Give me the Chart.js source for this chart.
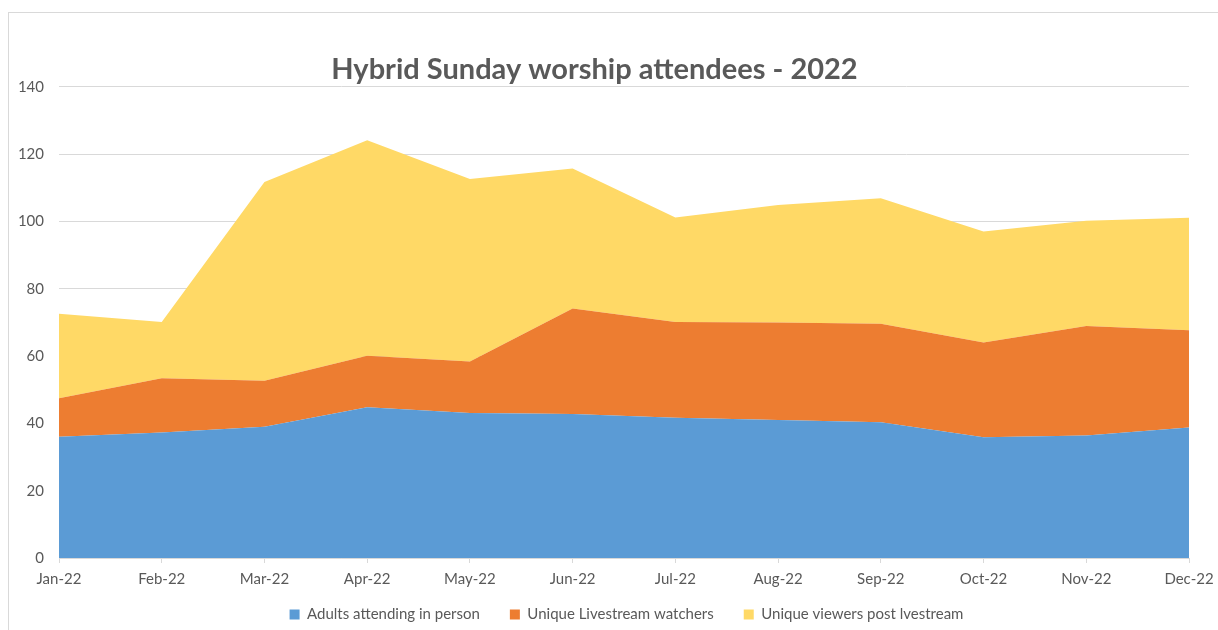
<!DOCTYPE html>
<html>
<head>
<meta charset="utf-8">
<script src="https://cdn.jsdelivr.net/npm/chart.js@4"></script>
<style>
  html, body { margin: 0; padding: 0; background: #fff; overflow: hidden; }
  .frame {
    position: absolute; left: 8px; top: 12px;
    width: 1260px; height: 700px;
    border: 1px solid #d9d9d9;
  }
  .wrap { position: absolute; left: 0; top: 0; width: 1218px; height: 630px; }
</style>
</head>
<body>
<div class="frame"></div>
<div class="wrap"><canvas id="myChart" width="1218" height="630"></canvas></div>
<script>
var months = ["Jan-22", "Feb-22", "Mar-22", "Apr-22", "May-22", "Jun-22", "Jul-22", "Aug-22", "Sep-22", "Oct-22", "Nov-22", "Dec-22"];

// values (each series is its own band, stacked)
var inPerson = [36.0, 37.3, 39.0, 44.8, 43.1, 42.8, 41.7, 41.0, 40.3, 35.9, 36.4, 38.8];
var livestream = [11.5, 16.1, 13.7, 15.3, 15.3, 31.3, 28.4, 29.0, 29.3, 28.1, 32.5, 28.9];
var postLivestream = [25.1, 16.7, 59.0, 64.0, 54.2, 41.6, 31.1, 34.9, 37.3, 33.0, 31.3, 33.4];

var yTicks = [0, 20, 40, 60, 80, 100, 120, 140];

var fontName = "Lato, 'Open Sans', sans-serif";
var grey = "#595959";

Chart.defaults.font.family = fontName;
Chart.defaults.color = grey;

// the legend in the original sits a bit right of centre and closer to the axis
const moveLegend = {
  id: "moveLegend",
  afterLayout(chart) {
    const lg = chart.legend;
    if (!lg) return;
    lg.left += 32; lg.right += 32;
    lg.top -= 18; lg.bottom -= 18;
  }
};

const ctx = document.getElementById("myChart");
new Chart(ctx, {
  type: "line",
  data: {
    labels: months,
    datasets: [
      {
        label: "Adults attending in person",
        data: inPerson,
        backgroundColor: "#5B9BD5",
        borderColor: "#5B9BD5",
        borderWidth: 0,
        pointRadius: 0,
        fill: "origin",
        lineTension: 0
      },
      {
        label: "Unique Livestream watchers",
        data: livestream,
        backgroundColor: "#ED7D31",
        borderColor: "#ED7D31",
        borderWidth: 0,
        pointRadius: 0,
        fill: "-1",
        lineTension: 0
      },
      {
        label: "Unique viewers post lvestream",
        data: postLivestream,
        backgroundColor: "#FFD966",
        borderColor: "#FFD966",
        borderWidth: 0,
        pointRadius: 0,
        fill: "-1",
        lineTension: 0
      }
    ]
  },
  options: {
    responsive: false,
    animation: false,
    layout: { padding: { left: 0, right: 29, top: 52, bottom: -20 } },
    plugins: {
      title: {
        display: true,
        text: "Hybrid Sunday worship attendees - 2022",
        color: grey,
        font: { size: 29, weight: "bold" },
        padding: { top: 0, bottom: 0 }
      },
      legend: {
        position: "bottom",
        labels: {
          boxWidth: 10,
          boxHeight: 10,
          padding: 30,
          color: grey,
          font: { size: 15 }
        }
      },
      tooltip: { enabled: false }
    },
    scales: {
      x: {
        offset: false,
        afterFit: function (scale) { scale.paddingRight = 0; scale.paddingLeft = 0; },
        grid: {
          display: true,
          drawOnChartArea: false,
          drawTicks: true,
          tickLength: 5,
          color: "#d9d9d9"
        },
        border: { color: "#d9d9d9" },
        ticks: { padding: 7, maxRotation: 0, font: { size: 15 } }
      },
      y: {
        stacked: true,
        min: 0,
        max: 140,
        afterFit: function (scale) { scale.width = 59; },
        afterBuildTicks: function (scale) {
          scale.ticks = yTicks.map(function (v) { return { value: v }; });
        },
        grid: { color: "#d9d9d9", drawTicks: false },
        border: { display: false },
        ticks: { padding: 15, font: { size: 15 } }
      }
    }
  },
  plugins: [moveLegend]
});
</script>
</body>
</html>
